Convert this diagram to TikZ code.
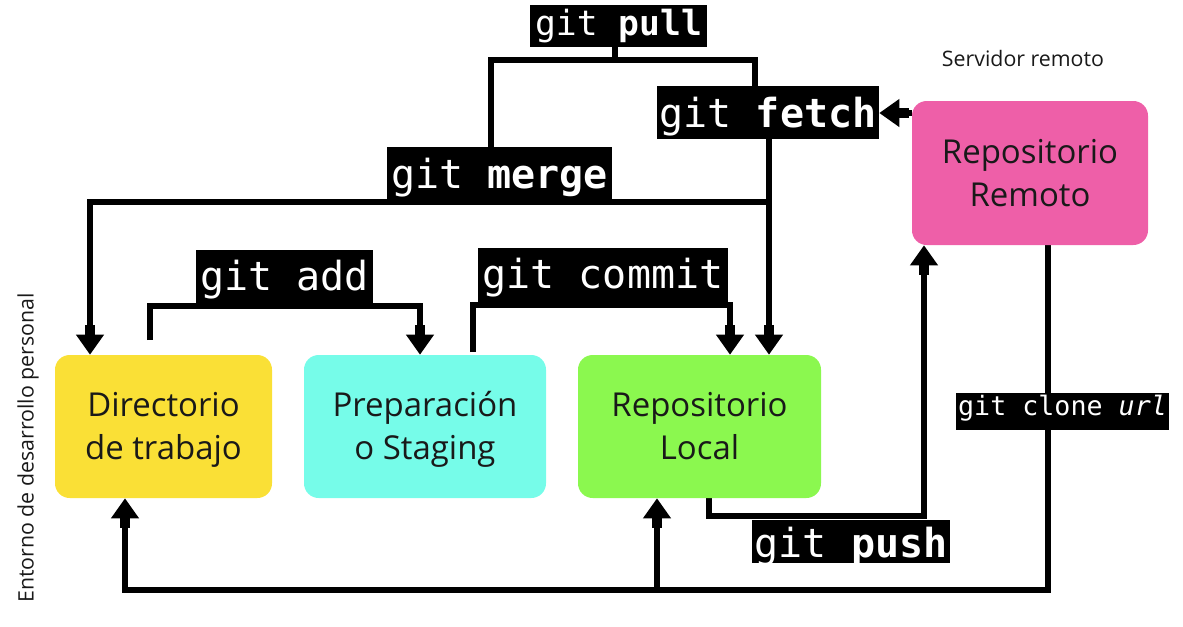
\documentclass[tikz,border=0pt]{standalone}
\usepackage{fontspec}
\setmainfont{Open Sans}
\newfontfamily\monofont{DejaVu Sans Mono}
\usetikzlibrary{arrows.meta,backgrounds}
\definecolor{cyel}{HTML}{FAE036}
\definecolor{ccyan}{HTML}{76FCE9}
\definecolor{cgreen}{HTML}{8BF84F}
\definecolor{cpink}{HTML}{EE5FA8}
\newcommand{\topstrut}{\rule{0pt}{25.7pt}}
\newcommand{\botstrut}{\rule[-8pt]{0pt}{8pt}}
\begin{document}
\begin{tikzpicture}[x=0.75pt,y=-0.75pt,
  box/.style={rounded corners=11pt, inner sep=0pt, align=center,
    font=\fontsize{24.7}{32.5}\selectfont, text=black!90},
  cmd/.style={fill=black, text=white, inner sep=0pt, text depth=0pt,
    font=\monofont\fontsize{30}{36}\selectfont},
  note/.style={font=\fontsize{16}{19}\selectfont, text=black!90},
  conn/.style={line width=4pt, line join=miter},
  arr/.style={-{Rectangle[width=8pt,length=7pt]Triangle[width=20pt,length=15pt]}}]
\useasboundingbox (0,0) rectangle (1183,626);
% boxes
\node[box, fill=cyel, minimum width=217*0.75pt, minimum height=143*0.75pt] (wd) at (163.5,426.5) {\topstrut Directorio\\de trabajo\botstrut};
\node[box, fill=ccyan, minimum width=242*0.75pt, minimum height=143*0.75pt] (stg) at (425,426.5) {\topstrut Preparación\\o Staging\botstrut};
\node[box, fill=cgreen, minimum width=243*0.75pt, minimum height=143*0.75pt] (loc) at (699.5,426.5) {\topstrut Repositorio\\Local\botstrut};
\node[box, fill=cpink, minimum width=236*0.75pt, minimum height=144*0.75pt] (rem) at (1030,173) {\topstrut Repositorio\\Remoto\botstrut};
% labels
\node[cmd, font=\monofont\fontsize{26}{30}\selectfont, text height=13.5pt, minimum width=177*0.75pt, minimum height=42*0.75pt] (pull) at (618.5,26) {git \textbf{pull}};
\node[cmd, text height=21.75pt, minimum width=222*0.75pt, minimum height=53*0.75pt] (fetch) at (768,112.5) {git \textbf{fetch}};
\node[cmd, text height=21.75pt, minimum width=225*0.75pt, minimum height=53*0.75pt] (merge) at (499.5,173.5) {git \textbf{merge}};
\node[cmd, text height=20.25pt, minimum width=177*0.75pt, minimum height=53*0.75pt] (add) at (284.5,276.5) {git add};
\node[cmd, text height=15pt, minimum width=250*0.75pt, minimum height=60*0.75pt] (commit) at (603,278) {git commit};
\node[cmd, text height=23.25pt, minimum width=198*0.75pt, minimum height=43*0.75pt] (push) at (851,541.5) {git \textbf{push}};
\node[cmd, font=\monofont\fontsize{20}{24}\selectfont, text height=5.25pt, minimum width=213*0.75pt, minimum height=37*0.75pt] (clone) at (1062.5,411.5) {git clone \textit{url}};
\node[note] (srv) at (1023,58) {Servidor remoto};
\node[note, rotate=90] (env) at (28,448) {Entorno de desarrollo personal};
% helper coordinates
\coordinate (pj) at (615,60);
\coordinate (mj) at (769,202);
\coordinate (addS) at (150,340);
\coordinate (comS) at (473,352);
\coordinate (cj) at (657,590);
\begin{pgfonlayer}{background}
\draw[conn] (pull.south -| pj) -- (pj);
\draw[conn] (merge.north -| 491,0) |- (pj) -| (fetch.north -| 755,0);
\draw[conn,arr] (rem.west |- 0,113) -- (fetch.east |- 0,113);
\draw[conn,arr] (fetch.south -| mj) -- (loc.north -| mj);
\draw[conn,arr] (mj) -| (wd.north -| 90,0);
\draw[conn,arr] (addS) |- (420,306) -- (420,0 |- stg.north);
\draw[conn,arr] (comS) |- (730,305) -- (730,0 |- loc.north);
\draw[conn,arr] (loc.south -| 709,0) |- (924,516) -- (924,0 |- rem.south);
\draw[conn,arr] (rem.south -| 1048,0) |- (125,590) -- (125,0 |- wd.south);
\draw[conn,arr] (cj) -- (loc.south -| cj);
\end{pgfonlayer}
\end{tikzpicture}
\end{document}
